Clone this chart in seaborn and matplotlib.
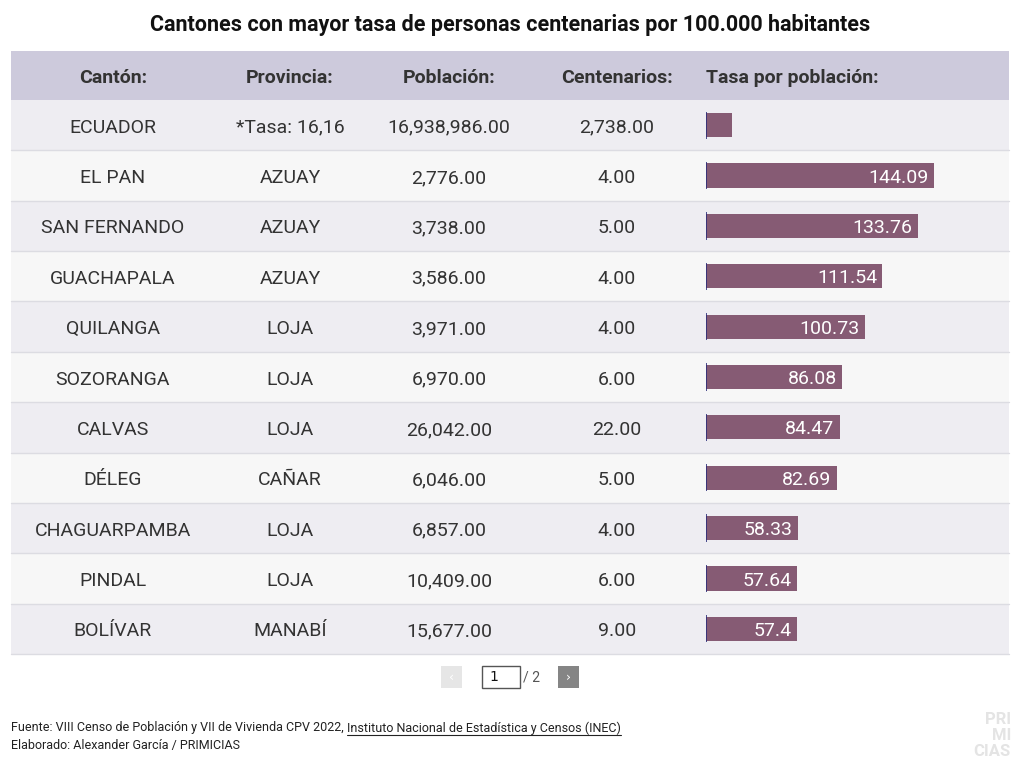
import matplotlib
matplotlib.use("Agg")
import matplotlib.pyplot as plt
import matplotlib.font_manager as fm
from matplotlib.patches import Rectangle
import seaborn as sns
import pandas as pd

# ---------------- data ----------------
title = "Cantones con mayor tasa de personas centenarias por 100.000 habitantes"
headers = ["Cantón:", "Provincia:", "Población:", "Centenarios:", "Tasa por población:"]
cantones = ["ECUADOR", "EL PAN", "SAN FERNANDO", "GUACHAPALA", "QUILANGA", "SOZORANGA",
            "CALVAS", "DÉLEG", "CHAGUARPAMBA", "PINDAL", "BOLÍVAR"]
provincias = ["*Tasa: 16,16", "AZUAY", "AZUAY", "AZUAY", "LOJA", "LOJA",
              "LOJA", "CAÑAR", "LOJA", "LOJA", "MANABÍ"]
poblacion = [16938986, 2776, 3738, 3586, 3971, 6970, 26042, 6046, 6857, 10409, 15677]
centenarios = [2738, 4, 5, 4, 4, 6, 22, 5, 4, 6, 9]
tasa = [16.16, 144.09, 133.76, 111.54, 100.73, 86.08, 84.47, 82.69, 58.33, 57.64, 57.4]
show_label = [False] + [True] * 10
fuente = "Fuente: VIII Censo de Población y VII de Vivienda CPV 2022, "
fuente_link = "Instituto Nacional de Estadística y Censos (INEC)"
elaborado = "Elaborado: Alexander García / PRIMICIAS"

# ---------------- style ----------------
sns.set_style("white")
names = {f.name for f in fm.fontManager.ttflist}
base = "Liberation Sans Narrow" if "Liberation Sans Narrow" in names else "Roboto"
plt.rcParams["font.family"] = [base, "DejaVu Sans"]

W, H = 1020, 770
fig = plt.figure(figsize=(W / 100, H / 100), dpi=100)
bg = fig.add_axes([0, 0, 1, 1])
bg.set_xlim(0, W)
bg.set_ylim(H, 0)
bg.axis("off")

TXT = "#333333"
HEAD_BG = "#cdcadc"
ROW_A = "#eeedf2"
ROW_B = "#f7f7f7"
SEP = "#dcdce2"
BAR = "#865b74"
DY = 2.5  # vertical text nudge

left, right = 11, 1009
head_top, head_bot = 51, 100
n = len(cantones)
row_h = (654 - head_bot) / n

bg.text(W / 2, 25, title, ha="center", va="center", fontsize=15.5,
        fontweight="bold", color="#111111")

bg.add_patch(Rectangle((left, head_top), right - left, head_bot - head_top,
                       color=HEAD_BG, lw=0))
col_x = [113, 290, 449, 617]
hy = (head_top + head_bot) / 2 + DY
for x, h in zip(col_x, headers[:4]):
    bg.text(x, hy, h, ha="center", va="center",
            fontsize=14, fontweight="bold", color=TXT)
bg.text(706, hy, headers[4], ha="left", va="center",
        fontsize=14, fontweight="bold", color=TXT)

for i in range(n):
    y0 = head_bot + i * row_h
    bg.add_patch(Rectangle((left, y0), right - left, row_h,
                           color=ROW_A if i % 2 == 0 else ROW_B, lw=0))
    bg.plot([left, right], [y0 + row_h, y0 + row_h], color=SEP, lw=1)
    yc = y0 + row_h / 2 + DY
    vals = [cantones[i], provincias[i], f"{poblacion[i]:,.2f}", f"{centenarios[i]:,.2f}"]
    for x, v in zip(col_x, vals):
        bg.text(x, yc, v, ha="center", va="center", fontsize=14, color=TXT)

# ---------------- bar column (seaborn) ----------------
bar_left = 706
scale = 228 / 144.09  # px per unit
ax_w = right - bar_left
bax = fig.add_axes([bar_left / W, 1 - 654 / H, ax_w / W, (654 - head_bot) / H])
df = pd.DataFrame({"canton": cantones, "tasa": tasa})
sns.barplot(data=df, x="tasa", y="canton", orient="h", color=BAR, saturation=1,
            width=0.48, ax=bax, edgecolor="none")
bax.set_xlim(0, ax_w / scale)
bax.set_ylim(n - 0.5, -0.5)
bax.axis("off")
bax.patch.set_alpha(0)
bax.vlines([0] * n, [i - 0.27 for i in range(n)], [i + 0.27 for i in range(n)],
           color="#2b2d7a", lw=1.2)
for i, (v, s) in enumerate(zip(tasa, show_label)):
    if s:
        bax.annotate(f"{v:g}", (v, i), xytext=(-4, -1.5), textcoords="offset points",
                     ha="right", va="center", fontsize=14, color="white")

# ---------------- pagination ----------------
py = 677
bg.add_patch(Rectangle((441, py - 11), 21, 22, color="#e6e6e6", lw=0))
bg.text(451.5, py, "‹", ha="center", va="center", fontsize=9, color="white",
        family="DejaVu Sans")
bg.add_patch(Rectangle((482, py - 11), 38, 22, facecolor="white",
                       edgecolor="#555555", lw=1))
bg.text(489, py, "1", ha="left", va="center", fontsize=10, color="#111111",
        family="DejaVu Sans")
bg.text(523, py, "/ 2", ha="left", va="center", fontsize=10, color="#555555")
bg.add_patch(Rectangle((558, py - 11), 21, 22, color="#858585", lw=0))
bg.text(568.5, py, "›", ha="center", va="center", fontsize=9, color="white",
        family="DejaVu Sans")

# ---------------- footer ----------------
FS = 9.0
t1 = bg.text(11, 728, fuente, ha="left", va="center", fontsize=FS, color="#222222")
fig.canvas.draw()
bb = t1.get_window_extent()
t2 = bg.text(bb.x1, 728, fuente_link, ha="left", va="center", fontsize=FS,
             color="#222222")
fig.canvas.draw()
bb2 = t2.get_window_extent()
bg.plot([bb2.x0, bb2.x1], [734.5, 734.5], color="#222222", lw=0.8)
bg.text(11, 746, elaborado, ha="left", va="center", fontsize=FS, color="#222222")

# logo
for txt, yy in [("PRI", 720), ("MI", 736), ("CIAS", 751)]:
    bg.text(1011, yy, txt, ha="right", va="center", fontsize=12, color="#e4e4e4",
            fontweight="bold")

fig.savefig("out.png", dpi=100)
